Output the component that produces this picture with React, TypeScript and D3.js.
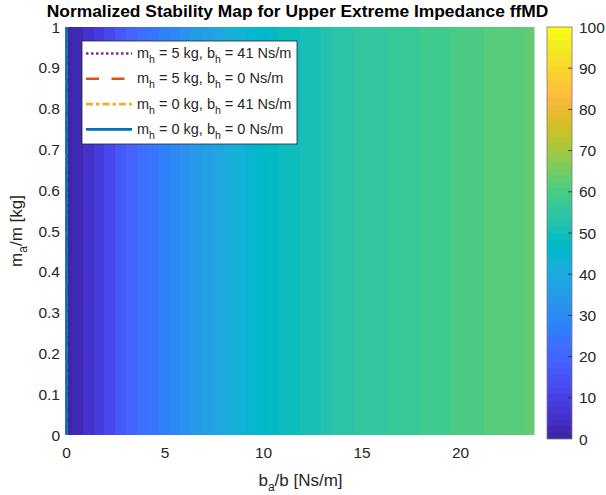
import React from 'react';
import * as d3 from 'd3';

// b_a/b column centres (Ns/m)
const baRatio = [
  0, 0.55, 1.1, 1.65, 2.2, 2.75, 3.3, 3.85, 4.4, 4.95, 5.5, 6.05, 6.6, 7.15, 7.7,
  8.25, 8.8, 9.35, 9.9, 10.45, 11, 11.55, 12.1, 12.65, 13.2, 13.75, 14.3, 14.85,
  15.4, 15.95, 16.5, 17.05, 17.6, 18.15, 18.7, 19.25, 19.8, 20.35, 20.9, 21.45,
  22, 22.55, 23.1, 23.65,
];

// normalized stability (same for every m_a/m row)
const stability = [
  1.5, 2.5, 5, 8, 12, 16, 19, 22, 24.5, 27, 29.5, 32, 34.5, 37, 39, 41.5, 43.5,
  45, 46.5, 47.5, 48.5, 49.5, 50.5, 51.5, 52.5, 53.2, 54, 54.7, 55.3, 56, 56.6,
  57.2, 57.8, 58.3, 58.8, 59.3, 59.8, 60.3, 60.7, 61.1, 61.5, 61.9, 62.3, 62.7,
];

const cbarTicks = [0, 10, 20, 30, 40, 50, 60, 70, 80, 90, 100];

const legendItems = [
  { mh: '5', bh: '41', color: '#7E2F8E', dash: '2.5,2.5' },
  { mh: '5', bh: '0', color: '#D95319', dash: '13,12.5' },
  { mh: '0', bh: '41', color: '#EDB120', dash: '7,3,3.5,3' },
  { mh: '0', bh: '0', color: '#0072BD', dash: null },
];

// MATLAB parula, 64 entries
const parulaRGB = [
  [0.2422, 0.1504, 0.6603], [0.2503, 0.165, 0.7066], [0.2578, 0.1818, 0.7511], [0.2647, 0.1978, 0.7952],
  [0.2706, 0.2147, 0.8364], [0.2751, 0.2342, 0.871], [0.2783, 0.2559, 0.8991], [0.2803, 0.2782, 0.9221],
  [0.2813, 0.3006, 0.9414], [0.281, 0.3228, 0.9579], [0.2795, 0.3447, 0.9717], [0.276, 0.3667, 0.9829],
  [0.2699, 0.3892, 0.9906], [0.2602, 0.4123, 0.9952], [0.244, 0.4358, 0.9988], [0.2206, 0.4603, 0.9973],
  [0.1963, 0.4847, 0.9892], [0.1834, 0.5074, 0.9798], [0.1786, 0.5289, 0.9682], [0.1764, 0.5499, 0.952],
  [0.1687, 0.5703, 0.9359], [0.154, 0.5902, 0.9218], [0.146, 0.6091, 0.9079], [0.138, 0.6276, 0.8973],
  [0.1248, 0.6459, 0.8883], [0.1113, 0.6635, 0.8763], [0.0952, 0.6798, 0.8598], [0.0689, 0.6948, 0.8394],
  [0.0297, 0.7082, 0.8163], [0.0036, 0.7203, 0.7917], [0.0067, 0.7312, 0.766], [0.0433, 0.7411, 0.7394],
  [0.0964, 0.75, 0.712], [0.1408, 0.7584, 0.6842], [0.1717, 0.767, 0.6554], [0.1938, 0.7758, 0.6251],
  [0.2161, 0.7843, 0.5923], [0.247, 0.7918, 0.5567], [0.2906, 0.7973, 0.5188], [0.3406, 0.8008, 0.4789],
  [0.3909, 0.8029, 0.4354], [0.4456, 0.8024, 0.3909], [0.5044, 0.7993, 0.348], [0.5616, 0.7942, 0.3045],
  [0.6174, 0.7876, 0.2612], [0.672, 0.7793, 0.2227], [0.7242, 0.7698, 0.191], [0.7738, 0.7598, 0.1646],
  [0.8203, 0.7498, 0.1535], [0.8634, 0.7406, 0.1596], [0.9035, 0.733, 0.1774], [0.9393, 0.7288, 0.21],
  [0.9728, 0.7298, 0.2394], [0.9956, 0.7434, 0.2371], [0.997, 0.7659, 0.2199], [0.9952, 0.7893, 0.2028],
  [0.9892, 0.8136, 0.1885], [0.9786, 0.8386, 0.1766], [0.9676, 0.8639, 0.1643], [0.961, 0.889, 0.1537],
  [0.9597, 0.9135, 0.1423], [0.9628, 0.9373, 0.1265], [0.9691, 0.9606, 0.1064], [0.9769, 0.9839, 0.0805],
];
const parula = parulaRGB.map(c => d3.rgb(c[0] * 255, c[1] * 255, c[2] * 255).formatHex());

const font = 'Liberation Sans, Arial, Helvetica, sans-serif';
const txt = '#262626';

const App = () => {
  const width = 606;
  const height = 495;
  const plot = { left: 66.5, right: 534.5, top: 27, bottom: 435 };
  const cbar = { left: 547, right: 572, top: 27, bottom: 439 };

  const x = d3.scaleLinear().domain([0, 23.75]).range([plot.left, plot.right]);
  const y = d3.scaleLinear().domain([0, 1]).range([plot.bottom, plot.top]);
  const color = d3.scaleQuantize<string>().domain([0, 100]).range(parula);
  const cy = d3.scaleLinear().domain([0, 100]).range([cbar.bottom, cbar.top]);

  // cell edges halfway between centres (imagesc style)
  const edges = baRatio.map((v, i) => {
    const lo = i === 0 ? v - (baRatio[1] - baRatio[0]) / 2 : (baRatio[i - 1] + v) / 2;
    const hi = i === baRatio.length - 1 ? v + (v - baRatio[i - 1]) / 2 : (v + baRatio[i + 1]) / 2;
    return [lo, hi];
  });

  const bandH = (cbar.bottom - cbar.top) / parula.length;

  return (
    <svg width={width} height={height} style={{ position: 'absolute', left: 0, top: 0, background: '#fff' }}
      fontFamily={font}>
      <defs>
        <clipPath id="plotClip">
          <rect x={plot.left} y={plot.top} width={plot.right - plot.left} height={plot.bottom - plot.top} />
        </clipPath>
      </defs>

      {/* heat map */}
      <g clipPath="url(#plotClip)">
        {stability.map((v, i) => (
          <rect key={i} x={x(edges[i][0])} y={y(1)} width={x(edges[i][1]) - x(edges[i][0]) + 0.5}
            height={y(0) - y(1)} fill={color(v)} shapeRendering="crispEdges" />
        ))}
      </g>

      {/* stability boundary lines at b_a/b = 0 */}
      {legendItems.map((d, i) => (
        <line key={i} x1={x(0)} x2={x(0)} y1={y(0)} y2={y(1)} stroke={d.color} strokeWidth={2.6}
          strokeDasharray={d.dash || undefined} />
      ))}

      {/* x ticks */}
      {x.ticks(5).map(t => (
        <text key={t} x={x(t)} y={458} textAnchor="middle" fontSize={15.5} fill={txt}>{t}</text>
      ))}
      {/* y ticks */}
      {y.ticks(10).map(t => (
        <text key={t} x={60} y={y(t) + 5.5} textAnchor="end" fontSize={15.5} fill={txt}>{+t.toFixed(1)}</text>
      ))}

      {/* axis labels */}
      <text x={(plot.left + plot.right) / 2} y={486} textAnchor="middle" fontSize={17} fill={txt}>
        b<tspan dy={5} fontSize={12}>a</tspan><tspan dy={-5}>/b [Ns/m]</tspan>
      </text>
      <text transform={`translate(21.5,${(plot.top + plot.bottom) / 2}) rotate(-90)`} textAnchor="middle"
        fontSize={17} fill={txt}>
        m<tspan dy={5} fontSize={12}>a</tspan><tspan dy={-5}>/m [kg]</tspan>
      </text>

      {/* title */}
      <text x={(plot.left + plot.right) / 2 - 3} y={17} textAnchor="middle" fontSize={17.4} fontWeight="bold" fill="#000">
        Normalized Stability Map for Upper Extreme Impedance ffMD
      </text>

      {/* legend */}
      <g>
        <rect x={82} y={41} width={215} height={103} fill="#fff" stroke="#262626" strokeWidth={0.8} />
        {legendItems.map((d, i) => {
          const ly = 53.5 + i * 25.3;
          return (
            <g key={i}>
              <line x1={86} x2={132} y1={ly} y2={ly} stroke={d.color} strokeWidth={2.6}
                strokeDasharray={d.dash || undefined} />
              <text x={137} y={ly + 4.5} fontSize={14.5} fill={txt}>
                m<tspan dy={5} fontSize={10.5}>h</tspan>
                <tspan dy={-5}>{` = ${d.mh} kg, b`}</tspan>
                <tspan dy={5} fontSize={10.5}>h</tspan>
                <tspan dy={-5}>{` = ${d.bh} Ns/m`}</tspan>
              </text>
            </g>
          );
        })}
      </g>

      {/* colorbar */}
      <g>
        {parula.map((c, i) => (
          <rect key={i} x={cbar.left} y={cbar.bottom - (i + 1) * bandH} width={cbar.right - cbar.left}
            height={bandH + 0.3} fill={c} shapeRendering="crispEdges" />
        ))}
        <rect x={cbar.left} y={cbar.top} width={cbar.right - cbar.left} height={cbar.bottom - cbar.top}
          fill="none" stroke="#7a7a7a" strokeWidth={0.8} />
        {cbarTicks.map(t => (
          <g key={t}>
            {t > 0 && t < 100 && (
              <line x1={cbar.right - 4} x2={cbar.right} y1={cy(t)} y2={cy(t)} stroke="#262626" strokeWidth={0.8} />
            )}
            <text x={579} y={cy(t) + 5.5} fontSize={15.5} fill={txt}>{t}</text>
          </g>
        ))}
      </g>
    </svg>
  );
};

export default App;
